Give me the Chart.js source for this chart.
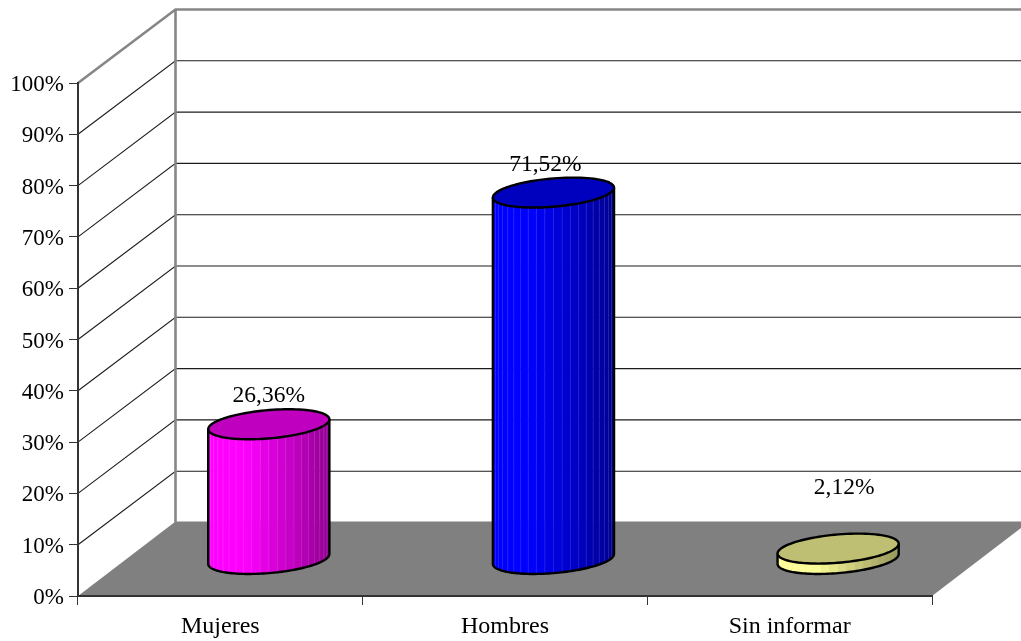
<!DOCTYPE html>
<html>
<head>
<meta charset="utf-8">
<style>html,body{margin:0;padding:0;background:#fff;overflow:hidden}canvas{display:block}</style>
<script src="https://cdn.jsdelivr.net/npm/chart.js@4"></script>
</head>
<body>
<canvas id="c" width="1021" height="641"></canvas>
<script>
const categories = ['Mujeres', 'Hombres', 'Sin informar'];
const percentages = [26.36, 71.52, 2.12];
const sideColors = [[255, 0, 255], [0, 0, 255], [255, 255, 153]];
const labelNudge = [[0, 0], [-8, 0], [6, -33]];

const FONT = '"Liberation Serif", "Times New Roman", serif';
const DEPTH_X = 97.5, DEPTH_Y = 73.5;
const CENTER_DEPTH = 0.497, RADIUS_DEPTH = 0.204;

function polyline(ctx, pts) {
  ctx.beginPath();
  pts.forEach((p, i) => i ? ctx.lineTo(p[0], p[1]) : ctx.moveTo(p[0], p[1]));
}

const walls = {
  id: 'walls',
  beforeDraw(chart) {
    const { ctx, scales: { x, y } } = chart;
    // the value-axis labels sit slightly below their ticks in the reference
    y.getLabelItems().forEach(item => { if (!item.nudged) { item.textOffset += 2; item.nudged = true; } });
    const L = x.left, R = x.right, B = y.getPixelForValue(0);
    ctx.save();
    ctx.fillStyle = '#fff';
    ctx.fillRect(0, 0, chart.width, chart.height);
    ctx.strokeStyle = '#1c1c1c';
    ctx.lineWidth = 1.1;
    for (let v = 10; v < 100; v += 10) {
      const py = y.getPixelForValue(v);
      polyline(ctx, [[L, py], [L + DEPTH_X, py - DEPTH_Y], [R + DEPTH_X, py - DEPTH_Y]]);
      ctx.stroke();
    }
    ctx.fillStyle = '#808080';
    polyline(ctx, [[L, B], [R, B], [R + DEPTH_X, B - DEPTH_Y - 1], [L + DEPTH_X, B - DEPTH_Y - 1]]);
    ctx.closePath();
    ctx.fill();
    const T = y.getPixelForValue(100);
    ctx.strokeStyle = '#868686';
    ctx.lineWidth = 2.6;
    polyline(ctx, [[L, T], [L + DEPTH_X, T - DEPTH_Y], [R + DEPTH_X, T - DEPTH_Y]]);
    ctx.stroke();
    polyline(ctx, [[L + DEPTH_X, T - DEPTH_Y], [L + DEPTH_X, B - DEPTH_Y]]);
    ctx.stroke();
    ctx.restore();
  }
};

const cylinders = {
  id: 'cylinders',
  afterDatasetsDraw(chart) {
    const { ctx } = chart;
    const meta = chart.getDatasetMeta(0);
    ctx.save();
    meta.data.forEach((bar, i) => {
      const ax = bar.width / 2;
      const by = DEPTH_Y * RADIUS_DEPTH;
      const bx = DEPTH_X * RADIUS_DEPTH;
      const cx = bar.x + DEPTH_X * CENTER_DEPTH;
      const topY = bar.y - DEPTH_Y * CENTER_DEPTH;
      const baseY = bar.base - DEPTH_Y * CENTER_DEPTH;
      const rim = (t, cy) => [cx + ax * Math.cos(t) + bx * Math.sin(t), cy - by * Math.sin(t)];
      const t0 = Math.atan2(bx, ax);
      const col = sideColors[i];
      const slices = 22;
      const xMin = rim(t0 + Math.PI, 0)[0], xMax = rim(t0, 0)[0];
      const front = k => t0 + Math.PI + Math.PI * k;
      for (let s = 0; s < slices; s++) {
        const a = front(s / slices), b = front((s + 1) / slices);
        const p1 = rim(a, baseY), p2 = rim(b, baseY), p3 = rim(b, topY), p4 = rim(a, topY);
        const f = ((p1[0] + p2[0]) / 2 - xMin) / (xMax - xMin);
        const shade = f < 0.3 ? 1 : 1 - 0.42 * (f - 0.3) / 0.7;
        ctx.fillStyle = `rgb(${col.map(c => Math.round(c * shade)).join(',')})`;
        polyline(ctx, [p1, p2, p3, p4]);
        ctx.closePath();
        ctx.fill();
        ctx.strokeStyle = ctx.fillStyle;
        ctx.lineWidth = 0.6;
        ctx.stroke();
      }
      ctx.strokeStyle = 'rgba(255,255,255,0.11)';
      ctx.lineWidth = 1;
      for (let s = 1; s < slices; s++) {
        const a = front(s / slices);
        polyline(ctx, [rim(a, baseY), rim(a, topY)]);
        ctx.stroke();
      }
      const outline = [];
      for (let s = 0; s <= 72; s++) outline.push(rim(front(s / 72), baseY));
      outline.push(rim(t0, topY));
      ctx.strokeStyle = '#000';
      ctx.lineWidth = 2.4;
      ctx.lineJoin = 'round';
      polyline(ctx, outline);
      ctx.stroke();
      polyline(ctx, [rim(t0 + Math.PI, baseY), rim(t0 + Math.PI, topY)]);
      ctx.stroke();
      const cap = [];
      for (let s = 0; s < 96; s++) cap.push(rim(s / 96 * Math.PI * 2, topY));
      polyline(ctx, cap);
      ctx.closePath();
      ctx.fillStyle = `rgb(${col.map(c => Math.round(c * 0.75)).join(',')})`;
      ctx.fill();
      ctx.stroke();
      ctx.fillStyle = '#000';
      ctx.font = '23.5px ' + FONT;
      ctx.textAlign = 'center';
      ctx.textBaseline = 'middle';
      const text = percentages[i].toFixed(2).replace('.', ',') + '%';
      ctx.fillText(text, cx + labelNudge[i][0], topY - 28 + labelNudge[i][1]);
    });
    ctx.restore();
  }
};

new Chart(document.getElementById('c'), {
  type: 'bar',
  data: {
    labels: categories,
    datasets: [{
      data: percentages,
      backgroundColor: 'rgba(0,0,0,0)',
      borderWidth: 0,
      categoryPercentage: 1,
      barPercentage: 0.402
    }]
  },
  options: {
    responsive: false,
    animation: false,
    layout: { padding: { top: 83, right: 89, left: 0, bottom: 0 } },
    plugins: { legend: { display: false }, tooltip: { enabled: false } },
    scales: {
      x: {
        afterFit(s) { s.height = 45; },
        border: { display: true, color: '#333', width: 2 },
        grid: { display: true, offset: true, drawOnChartArea: false, drawTicks: true, tickLength: 9, tickColor: '#333', tickWidth: 1 },
        ticks: { color: '#000', font: { family: FONT, size: 24 }, padding: 7, maxRotation: 0 }
      },
      y: {
        min: 0,
        max: 100,
        afterFit(s) { s.width = 78; },
        border: { display: true, color: '#333', width: 2 },
        grid: { display: true, drawOnChartArea: false, drawTicks: true, tickLength: 9, tickColor: '#333', tickWidth: 1 },
        ticks: { color: '#000', font: { family: FONT, size: 23 }, padding: 5, stepSize: 10, callback: v => v + '%' }
      }
    }
  },
  plugins: [walls, cylinders]
});
</script>
</body>
</html>
